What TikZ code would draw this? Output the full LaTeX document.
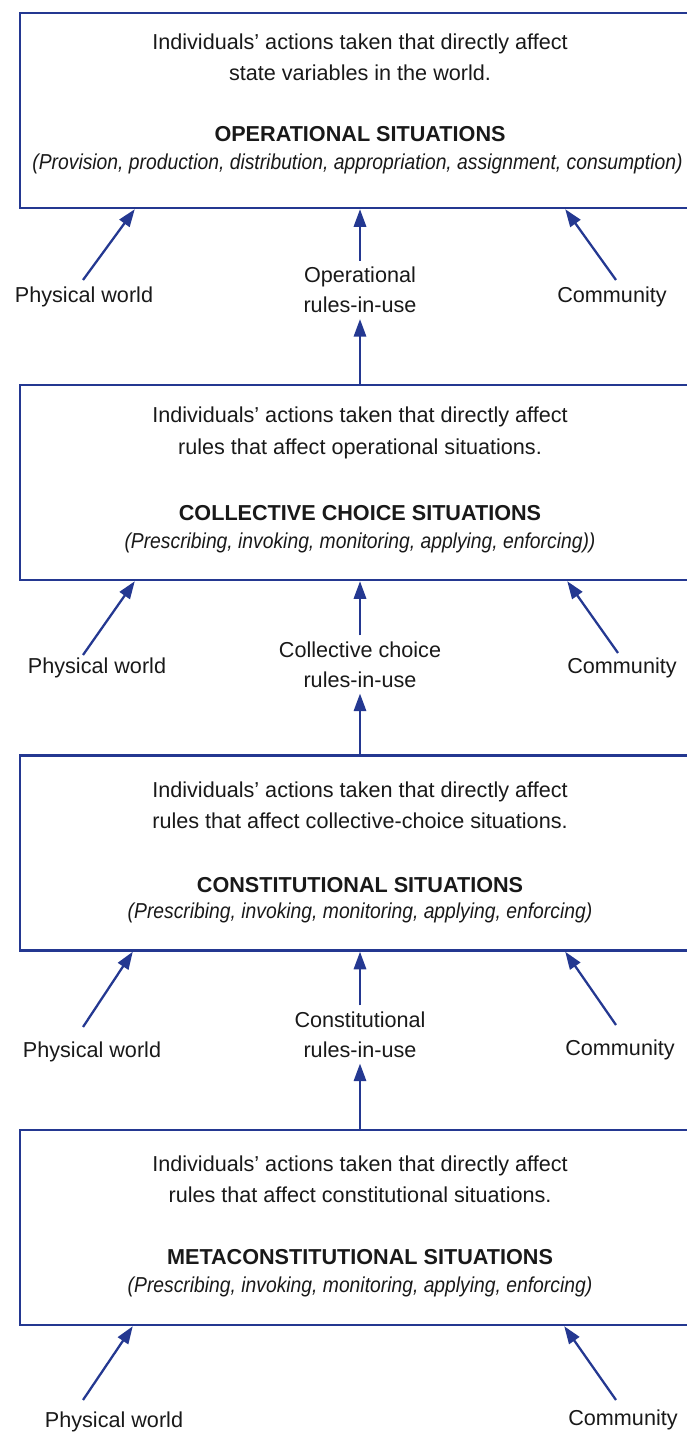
\documentclass[tikz,border=0pt]{standalone}
\usepackage{fontspec}
\setmainfont{Liberation Sans}
\newfontfamily\listfont{Liberation Sans}[FakeStretch=0.893]
\usetikzlibrary{arrows.meta}

\definecolor{navy}{RGB}{36,56,145}
\definecolor{ink}{RGB}{25,25,25}

\tikzset{
  situation/.style={draw=navy,line width=1.4pt,minimum width=13.6cm,
                    minimum height=3.9cm,inner sep=0pt},
  flow/.style={navy,line width=1.3pt,-{Triangle[length=10pt,width=7pt]}},
  desc/.style={text=ink,align=center,inner sep=0pt,
               font=\fontsize{12.3}{17.8}\selectfont},
  head/.style={text=ink,inner sep=0pt,font=\fontsize{12.3}{15}\selectfont\bfseries},
  list/.style={text=ink,inner sep=0pt,font=\listfont\fontsize{12.3}{15}\selectfont\itshape},
  source/.style={text=ink,align=center,font=\fontsize{12.3}{17}\selectfont}
}

\begin{document}
\begin{tikzpicture}
  \clip (0,0) rectangle (13.74,28.74);

  % the four levels of situations
  \node[situation] (op)   at (7.2,26.53) {};
  \node[situation] (cc)   at (7.2,19.09) {};
  \node[situation] (con)  at (7.2,11.68) {};
  \node[situation] (meta) at (7.2,4.19)  {};

  \node[desc] (op-d) at (7.2,27.6)
       {Individuals' actions taken that directly affect\\state variables in the world.};
  \node[head] (op-t) at (7.2,26.06) {OPERATIONAL SITUATIONS};
  \node[list] (op-l) at (7.15,25.46)
       {(Provision, production, distribution, appropriation, assignment, consumption)};

  \node[desc] (cc-d) at (7.2,20.08)
       {Individuals' actions taken that directly affect\\rules that affect operational situations.};
  \node[head] (cc-t) at (7.2,18.48) {COLLECTIVE CHOICE SITUATIONS};
  \node[list] (cc-l) at (7.2,17.88)
       {(Prescribing, invoking, monitoring, applying, enforcing))};

  \node[desc] (con-d) at (7.2,12.64)
       {Individuals' actions taken that directly affect\\rules that affect collective-choice situations.};
  \node[head] (con-t) at (7.2,11.04) {CONSTITUTIONAL SITUATIONS};
  \node[list] (con-l) at (7.2,10.48)
       {(Prescribing, invoking, monitoring, applying, enforcing)};

  \node[desc] (meta-d) at (7.2,5.16)
       {Individuals' actions taken that directly affect\\rules that affect constitutional situations.};
  \node[head] (meta-t) at (7.2,3.60) {METACONSTITUTIONAL SITUATIONS};
  \node[list] (meta-l) at (7.2,3.00)
       {(Prescribing, invoking, monitoring, applying, enforcing)};

  % inputs under each box
  \node[source] (op-pwl)   at (1.68,22.80)  {Physical world};
  \node[source] (op-r)     at (7.2,22.94)   {Operational\\rules-in-use};
  \node[source] (op-cml)   at (12.24,22.80) {Community};

  \node[source] (cc-pwl)   at (1.94,15.38)  {Physical world};
  \node[source] (cc-r)     at (7.2,15.45)   {Collective choice\\rules-in-use};
  \node[source] (cc-cml)   at (12.44,15.38) {Community};

  \node[source] (con-pwl)  at (1.84,7.70)   {Physical world};
  \node[source] (con-r)    at (7.2,8.05)    {Constitutional\\rules-in-use};
  \node[source] (con-cml)  at (12.40,7.74)  {Community};

  \node[source] (meta-pwl) at (2.28,0.30)   {Physical world};
  \node[source] (meta-cml) at (12.46,0.34)  {Community};

  \coordinate (op-pw)   at (1.66,23.14);
  \coordinate (op-cm)   at (12.32,23.14);
  \coordinate (cc-pw)   at (1.66,15.64);
  \coordinate (cc-cm)   at (12.36,15.68);
  \coordinate (con-pw)  at (1.66,8.20);
  \coordinate (con-cm)  at (12.32,8.24);
  \coordinate (meta-pw) at (1.66,0.74);
  \coordinate (meta-cm) at (12.32,0.74);

  % arrows
  \draw[flow] (op-pw)   -- ([xshift=2.32cm]op.south west);
  \draw[flow] (op-cm)   -- ([xshift=-2.72cm]op.south east);
  \draw[flow] (op-r)    -- (op);
  \draw[flow] (cc)      -- (op-r);

  \draw[flow] (cc-pw)   -- ([xshift=2.32cm]cc.south west);
  \draw[flow] (cc-cm)   -- ([xshift=-2.68cm]cc.south east);
  \draw[flow] (cc-r)    -- (cc);
  \draw[flow] (con)     -- (cc-r);

  \draw[flow] (con-pw)  -- ([xshift=2.28cm]con.south west);
  \draw[flow] (con-cm)  -- ([xshift=-2.72cm]con.south east);
  \draw[flow] (con-r)   -- (con);
  \draw[flow] (meta)    -- (con-r);

  \draw[flow] (meta-pw) -- ([xshift=2.28cm]meta.south west);
  \draw[flow] (meta-cm) -- ([xshift=-2.74cm]meta.south east);
\end{tikzpicture}
\end{document}
